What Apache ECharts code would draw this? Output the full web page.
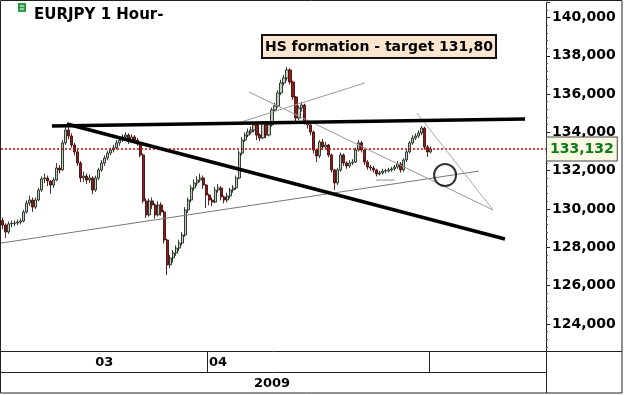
<!DOCTYPE html>
<html>
<head>
<meta charset="utf-8">
<script src="https://cdn.jsdelivr.net/npm/echarts@6/dist/echarts.min.js"></script>
<style>
  html, body { margin: 0; padding: 0; background: #fff; }
  #chart { width: 625px; height: 395px; }
</style>
</head>
<body>
<div id="chart"></div>
<script>
// hourly slots: 144 candles + empty room on the right
const slotCount = 182;
const slots = Array.from({ length: slotCount }, (_, i) => i);
const monthLabels = ['03', '04'];
const yearLabel = '2009';
const lastPrice = 133.132;
const noteText = 'HS formation - target 131,80';

// [open, close, low, high]
const candles = [
  [129.40, 129.16, 128.95, 129.55], [129.16, 128.80, 128.49, 129.25], [128.80, 129.22, 128.70, 129.35], [129.22, 129.25, 129.05, 129.40],
  [129.25, 129.27, 129.10, 129.40], [129.27, 129.32, 129.15, 129.45], [129.32, 129.37, 129.20, 129.50], [129.37, 129.84, 129.30, 129.95],
  [129.84, 130.31, 129.75, 130.45], [130.31, 130.47, 130.15, 130.70], [130.47, 130.10, 129.85, 130.60], [130.10, 130.47, 130.00, 130.60],
  [130.47, 130.99, 130.40, 131.10], [130.99, 131.57, 130.90, 131.70], [131.57, 131.62, 131.35, 131.85], [131.62, 131.46, 131.20, 131.75],
  [131.46, 131.25, 130.80, 131.50], [131.25, 131.51, 131.10, 131.65], [131.51, 132.14, 131.45, 132.40], [132.14, 132.04, 131.85, 132.30],
  [132.04, 133.45, 132.00, 133.60], [133.45, 134.12, 133.35, 134.44], [134.12, 133.81, 133.65, 134.30], [133.81, 133.34, 133.20, 133.95],
  [133.34, 132.98, 132.80, 133.45], [132.98, 132.40, 132.25, 133.10], [132.40, 131.62, 131.40, 132.50], [131.62, 131.72, 131.40, 131.95],
  [131.72, 131.51, 131.30, 131.85], [131.51, 131.62, 131.35, 131.80], [131.62, 130.99, 130.78, 131.70], [130.99, 131.62, 130.90, 131.75],
  [131.62, 132.04, 131.50, 132.15], [132.04, 132.40, 131.95, 132.55], [132.40, 132.66, 132.25, 132.80], [132.66, 132.92, 132.55, 133.05],
  [132.92, 133.08, 132.80, 133.20], [133.08, 133.19, 132.95, 133.35], [133.19, 133.45, 133.10, 133.60], [133.45, 133.60, 133.30, 133.75],
  [133.60, 133.76, 133.50, 133.90], [133.76, 133.86, 133.55, 134.00], [133.86, 133.55, 133.40, 133.95], [133.55, 133.76, 133.45, 133.90],
  [133.76, 133.60, 133.45, 133.85], [133.60, 133.45, 133.30, 133.70], [133.45, 132.82, 132.70, 133.50], [132.82, 130.42, 130.30, 132.90],
  [130.42, 129.69, 129.53, 130.55], [129.69, 130.42, 129.60, 130.55], [130.42, 130.21, 130.00, 130.60], [130.21, 129.69, 129.50, 130.30],
  [129.69, 130.21, 129.60, 130.40], [130.21, 129.84, 129.65, 130.35], [129.84, 128.38, 128.20, 129.95], [128.38, 127.08, 126.55, 128.45],
  [127.08, 127.44, 126.90, 127.60], [127.44, 127.70, 127.20, 127.85], [127.70, 127.96, 127.55, 128.10], [127.96, 128.22, 127.80, 128.40],
  [128.22, 128.64, 128.10, 128.80], [128.64, 129.95, 128.55, 130.10], [129.95, 130.47, 129.80, 130.60], [130.47, 131.10, 130.35, 131.25],
  [131.10, 131.36, 130.95, 131.55], [131.36, 131.51, 131.20, 131.70], [131.51, 131.62, 131.40, 131.85], [131.62, 131.25, 131.05, 131.75],
  [131.25, 130.73, 130.05, 131.30], [130.73, 130.47, 130.20, 130.80], [130.47, 130.36, 130.15, 130.60], [130.36, 130.99, 130.30, 131.15],
  [130.99, 131.10, 130.85, 131.30], [131.10, 130.63, 130.45, 131.20], [130.63, 130.47, 130.30, 130.70], [130.47, 130.68, 130.35, 130.85],
  [130.68, 130.99, 130.55, 131.10], [130.99, 131.10, 130.85, 131.25], [131.10, 131.62, 131.00, 131.75], [131.62, 132.92, 131.55, 133.05],
  [132.92, 133.60, 132.80, 133.75], [133.60, 133.86, 133.50, 134.00], [133.86, 134.02, 133.75, 134.20], [134.02, 134.12, 133.90, 134.30],
  [134.12, 134.39, 134.00, 134.55], [134.39, 133.86, 133.60, 134.45], [133.86, 133.71, 133.55, 133.95], [133.71, 134.49, 133.65, 134.60],
  [134.49, 133.86, 133.70, 134.55], [133.86, 134.39, 133.80, 134.50], [134.39, 135.17, 134.30, 135.30], [135.17, 135.38, 135.05, 135.55],
  [135.38, 136.06, 135.30, 136.20], [136.06, 136.58, 135.95, 136.75], [136.58, 136.84, 136.45, 137.00], [136.84, 137.26, 136.70, 137.41],
  [137.26, 136.63, 136.50, 137.35], [136.63, 135.85, 135.70, 136.70], [135.85, 134.75, 134.50, 135.90], [134.75, 135.27, 134.65, 135.40],
  [135.27, 135.43, 135.10, 135.60], [135.43, 134.54, 134.40, 135.50], [134.54, 134.39, 134.20, 134.65], [134.39, 134.02, 133.85, 134.50],
  [134.02, 133.08, 132.90, 134.10], [133.08, 132.77, 132.45, 133.15], [132.77, 133.50, 132.65, 133.60], [133.50, 133.24, 133.10, 133.65],
  [133.24, 133.34, 133.15, 133.50], [133.34, 132.82, 132.70, 133.40], [132.82, 132.04, 131.90, 132.90], [132.04, 131.36, 130.99, 132.10],
  [131.36, 132.04, 131.25, 132.15], [132.04, 132.82, 131.95, 132.95], [132.82, 132.40, 132.25, 132.90], [132.40, 132.25, 132.10, 132.50],
  [132.25, 132.40, 132.15, 132.55], [132.40, 132.45, 132.30, 132.60], [132.45, 133.08, 132.40, 133.20], [133.08, 133.45, 133.00, 133.60],
  [133.45, 133.08, 132.95, 133.55], [133.08, 132.45, 132.30, 133.15], [132.45, 132.19, 132.05, 132.55], [132.19, 132.14, 132.00, 132.30],
  [132.14, 132.04, 131.90, 132.25], [132.04, 131.83, 131.70, 132.10], [131.83, 131.88, 131.75, 132.00], [131.88, 131.98, 131.80, 132.10],
  [131.98, 132.00, 131.85, 132.10], [132.00, 132.04, 131.90, 132.15], [132.04, 132.09, 131.95, 132.20], [132.09, 132.19, 132.00, 132.30],
  [132.19, 132.35, 132.10, 132.50], [132.35, 132.04, 131.90, 132.45], [132.04, 132.56, 131.95, 132.65], [132.56, 132.98, 132.45, 133.10],
  [132.98, 133.45, 132.90, 133.55], [133.45, 133.71, 133.35, 133.85], [133.71, 133.81, 133.60, 133.95], [133.81, 133.97, 133.70, 134.10],
  [133.97, 134.23, 133.85, 134.33], [134.23, 133.24, 133.10, 134.30], [133.24, 132.98, 132.72, 133.35], [132.98, 133.132, 132.90, 133.25]
];

// drawn trend lines, [slot, price] end points
const neckline = [[16.5, 134.33], [174.5, 134.70]];
const downTrend = [[21.5, 134.44], [167.8, 128.43]];
const supportLine = [[-0.5, 128.22], [159.1, 131.98]];
const shoulderLine = [[79.6, 134.54], [121.0, 136.58]];
const headLine = [[82.3, 136.11], [163.8, 129.95]];
const triangleLine = [[138.4, 135.01], [163.8, 129.95]];
const shortLine = [[124.7, 131.51], [130.9, 131.51]];
const targetCircle = [[147.8, 131.77]];

const font = 'DejaVu Sans';
const fmtPrice = v => v.toFixed(3).replace('.', ',');

const chart = echarts.init(document.getElementById('chart'));

function lineSeries(data, color, width) {
  return {
    type: 'line', xAxisIndex: 2, data: data, symbol: 'none', silent: true,
    lineStyle: { color: color, width: width }, z: 5
  };
}

const priceLine = { color: '#e00000', type: [2, 2], width: 1.5 };

const option = {
  animation: false,
  backgroundColor: '#fff',
  title: {
    text: 'EURJPY 1 Hour-', left: 29, top: 3,
    textStyle: { fontFamily: font, fontWeight: 'bold', fontSize: 15, color: '#000' }
  },
  grid: { left: 1, right: 79, top: 2, bottom: 44 },
  xAxis: [
    {
      type: 'category', data: slots, boundaryGap: true,
      axisLine: { show: true, onZero: false, lineStyle: { color: '#222', width: 1 } },
      axisTick: { show: true, length: 21, interval: i => i === 69 || i === 143, lineStyle: { color: '#222' } },
      axisLabel: {
        interval: i => i === 34 || i === 72, margin: 5,
        formatter: (v, i) => (i === 34 ? monthLabels[0] : i === 72 ? monthLabels[1] : ''),
        fontFamily: font, fontWeight: 'bold', fontSize: 13, color: '#000'
      },
      splitLine: { show: false }
    },
    {
      type: 'category', data: slots, boundaryGap: true, position: 'bottom', offset: 21,
      axisLine: { show: true, onZero: false, lineStyle: { color: '#222', width: 1 } },
      axisTick: { show: false },
      axisLabel: {
        interval: i => i === 90, margin: 5,
        formatter: (v, i) => (i === 90 ? yearLabel : ''),
        fontFamily: font, fontWeight: 'bold', fontSize: 13, color: '#000'
      }
    },
    { type: 'value', min: -0.5, max: slotCount - 0.5, show: false }
  ],
  yAxis: {
    type: 'value', position: 'right', min: 122.584, max: 140.809, splitNumber: 9, scale: true,
    axisLine: { show: true, onZero: false, lineStyle: { color: '#222', width: 1 } },
    axisTick: { show: true, length: 4, lineStyle: { color: '#222' } },
    minorTick: { show: true, splitNumber: 5, length: 2, lineStyle: { color: '#555' } },
    splitLine: { show: false },
    axisLabel: {
      margin: 6, fontFamily: font, fontWeight: 'bold', fontSize: 14, color: '#000',
      showMinLabel: false, showMaxLabel: true,
      formatter: v => (Math.abs(v - Math.round(v)) < 1e-6 && Math.round(v) % 2 === 0 ? fmtPrice(v) : '')
    }
  },
  series: [
    {
      type: 'candlestick', data: candles, barWidth: 2.6,
      itemStyle: {
        color: '#bfd0bf', color0: '#8a1e1e',
        borderColor: '#1e2a1e', borderColor0: '#4a0c0c', borderWidth: 0.9
      },
      markLine: {
        silent: true, symbol: 'none', precision: 3,
        lineStyle: priceLine,
        data: [{ yAxis: lastPrice, lineStyle: priceLine }],
        label: {
          show: true, position: 'end', distance: 1,
          formatter: () => fmtPrice(lastPrice),
          backgroundColor: '#fbfbe4', borderColor: '#444', borderWidth: 1,
          padding: [5, 3, 4, 3], color: '#0a7a1a',
          fontFamily: font, fontWeight: 'bold', fontSize: 14
        }
      }
    },
    lineSeries(supportLine, '#777', 1),
    lineSeries(shoulderLine, '#999', 1),
    lineSeries(headLine, '#999', 1),
    lineSeries(triangleLine, '#aaa', 1),
    lineSeries(shortLine, '#888', 1),
    lineSeries(neckline, '#000', 3.5),
    lineSeries(downTrend, '#000', 3.5),
    {
      type: 'scatter', xAxisIndex: 2, data: targetCircle, symbol: 'circle', symbolSize: 22, silent: true,
      itemStyle: { color: 'rgba(0,0,0,0)', borderColor: '#000', borderWidth: 2 }, z: 6
    }
  ],
  graphic: [
    { type: 'rect', shape: { x: 0.5, y: 0.5, width: 621.5, height: 392.5 }, style: { fill: 'none', stroke: '#222', lineWidth: 1 }, silent: true },
    { type: 'line', shape: { x1: 546, y1: 351.5, x2: 622, y2: 351.5 }, style: { stroke: '#222', lineWidth: 1 }, silent: true },
    { type: 'line', shape: { x1: 546.5, y1: 351, x2: 546.5, y2: 393 }, style: { stroke: '#222', lineWidth: 1 }, silent: true },
    { type: 'rect', shape: { x: 18, y: 3, width: 8, height: 9 }, style: { fill: '#2e9a44' }, silent: true },
    { type: 'line', shape: { x1: 20, y1: 6, x2: 24, y2: 6 }, style: { stroke: '#fff', lineWidth: 1 }, silent: true },
    { type: 'line', shape: { x1: 20, y1: 9, x2: 24, y2: 9 }, style: { stroke: '#fff', lineWidth: 1 }, silent: true },
    {
      type: 'group', left: 261, top: 34, silent: true,
      children: [
        { type: 'rect', shape: { x: 0, y: 0, width: 234, height: 23 }, style: { fill: '#fde6cf', stroke: '#111', lineWidth: 2 } },
        {
          type: 'text', x: 117, y: 12,
          style: { text: noteText, fill: '#000', font: 'bold 14px "DejaVu Sans"', align: 'center', verticalAlign: 'middle' }
        }
      ]
    }
  ]
};

chart.setOption(option);
</script>
</body>
</html>
